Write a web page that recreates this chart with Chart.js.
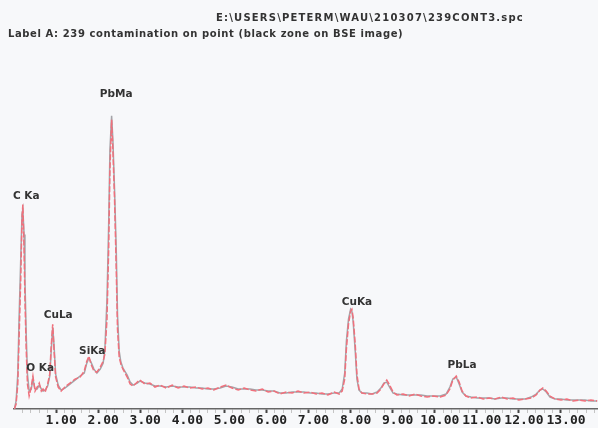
<!DOCTYPE html>
<html>
<head>
<meta charset="utf-8">
<script src="https://cdn.jsdelivr.net/npm/chart.js@4.4.1/dist/chart.umd.min.js"></script>
<style>
  html, body { margin: 0; padding: 0; background: #f7f8fa; }
  #wrap { position: relative; width: 598px; height: 428px; }
  #spectrum { position: absolute; left: 0; top: 0; }
  .hdr { position: absolute; font-family: "DejaVu Sans", sans-serif; font-weight: bold; font-size: 10px; color: #333; white-space: nowrap; }
  #path { left: 216px; top: 12px; letter-spacing: 1.2px; }
  #label { left: 8px; top: 28px; letter-spacing: 0.6px; }
</style>
</head>
<body>
<div id="wrap">
  <canvas id="spectrum" width="598" height="428"></canvas>
  <div class="hdr" id="path">E:\USERS\PETERM\WAU\210307\239CONT3.spc</div>
  <div class="hdr" id="label">Label A: 239 contamination on point (black zone on BSE image)</div>
</div>
<script>
// energy (keV) of each channel
const energy = [
  0.01,0.05,0.09,0.12,0.16,0.19,0.21,0.24,0.26,0.29,
  0.32,0.36,0.41,0.45,0.50,0.55,0.60,0.65,0.69,0.74,
  0.80,0.85,0.88,0.92,0.95,0.99,1.05,1.12,1.21,1.33,
  1.45,1.57,1.67,1.73,1.78,1.83,1.90,1.97,2.05,2.12,
  2.16,2.21,2.25,2.28,2.32,2.35,2.39,2.43,2.46,2.50,
  2.54,2.59,2.69,2.76,2.83,2.93,2.99,3.11,3.23,3.35,
  3.47,3.62,3.76,3.90,4.04,4.18,4.33,4.47,4.61,4.75,
  4.90,5.04,5.18,5.33,5.47,5.61,5.75,5.90,6.04,6.18,
  6.32,6.47,6.61,6.75,6.89,7.04,7.18,7.32,7.46,7.61,
  7.73,7.80,7.86,7.90,7.95,8.00,8.03,8.06,8.11,8.15,
  8.20,8.27,8.39,8.51,8.63,8.72,8.79,8.86,8.94,9.01,
  9.10,9.25,9.39,9.53,9.67,9.82,9.96,10.13,10.27,10.36,
  10.43,10.51,10.58,10.65,10.74,10.86,11.01,11.15,11.29,11.43,
  11.58,11.72,11.86,12.00,12.15,12.29,12.41,12.50,12.57,12.65,
  12.74,12.86,13.00,13.14,13.29,13.43,13.57,13.71,13.86
];
// red spectrum (counts)
const redCounts = [
  0,5,25,70,130,190,205,160,110,60,
  25,13,22,33,18,22,26,18,20,17,
  25,35,60,85,60,32,22,18,22,26,
  30,32,38,48,53,45,38,37,42,48,
  55,90,160,240,290,260,210,140,80,52,
  45,40,32,25,23,27,29,25,26,22,
  24,21,24,21,23,21,22,20,21,19,
  22,24,21,19,21,19,18,20,17,18,
  15,17,16,18,16,17,15,16,14,17,
  15,18,30,60,85,98,100,92,65,35,
  20,16,15,15,16,20,25,29,23,17,
  14,15,13,15,13,12,13,12,14,20,
  29,33,27,18,13,11,12,10,11,10,
  12,10,11,9,10,11,14,19,21,18,
  13,10,9,10,8,9,8,9,8
];
// grey spectrum (counts)
const greyCounts = [
  0,8,35,90,150,195,200,175,130,75,
  35,18,20,30,20,20,24,20,18,19,
  23,33,55,82,65,35,24,19,21,25,
  29,33,36,46,51,47,40,36,40,46,
  60,110,185,260,294,270,220,160,95,58,
  47,41,34,27,24,26,28,26,25,23,
  23,22,23,22,22,22,21,21,20,20,
  21,23,22,20,20,20,19,19,18,18,
  16,16,17,17,17,16,16,15,15,16,
  16,20,36,68,90,100,98,88,58,30,
  19,16,16,15,17,21,26,27,21,16,
  15,14,14,14,14,13,13,13,15,22,
  30,32,25,17,13,12,11,11,11,10,
  11,11,10,10,10,12,15,19,20,17,
  12,10,10,9,9,9,9,8,8
];
// peak labels: name, energy and height where the label sits
const peakNames = ['C Ka', 'O Ka', 'CuLa', 'SiKa', 'PbMa', 'CuKa', 'PbLa'];
const peakLabelEnergy = [0.29, 0.62, 1.05, 1.86, 2.43, 8.15, 10.65];
const peakLabelCounts = [213, 41, 94, 58, 316, 107, 44];

const tickValues = [1, 2, 3, 4, 5, 6, 7, 8, 9, 10, 11, 12, 13];
const tickLabels = ['1.00', '2.00', '3.00', '4.00', '5.00', '6.00', '7.00', '8.00', '9.00', '10.00', '11.00', '12.00', '13.00'];

const toPoints = (counts) => energy.map((e, i) => ({ x: e, y: counts[i] }));

const bgPlugin = {
    id: 'bg',
    beforeDraw(chart) {
        const ctx = chart.ctx;
        ctx.save();
        ctx.fillStyle = '#f7f8fa';
        ctx.fillRect(0, 0, chart.width, chart.height);
        ctx.restore();
    }
};

const peakLabelPlugin = {
    id: 'peakLabels',
    afterDatasetsDraw(chart) {
        const ctx = chart.ctx;
        const xs = chart.scales.x;
        const ys = chart.scales.y;
        ctx.save();
        ctx.font = 'bold 10.5px "DejaVu Sans"';
        ctx.fillStyle = '#333';
        ctx.textAlign = 'center';
        ctx.textBaseline = 'middle';
        peakNames.forEach((name, i) => {
            ctx.fillText(name, xs.getPixelForValue(peakLabelEnergy[i]), ys.getPixelForValue(peakLabelCounts[i]));
        });
        ctx.restore();
    }
};

const ctx = document.getElementById('spectrum').getContext('2d');
const chart = new Chart(ctx, {
    type: 'line',
    data: {
        datasets: [{
            label: 'red',
            data: toPoints(redCounts),
            borderColor: '#f0707c',
            borderWidth: 1.5,
            borderDash: [6, 2],
            pointRadius: 0,
            tension: 0
        }, {
            label: 'grey',
            data: toPoints(greyCounts),
            borderColor: '#a4a4a8',
            borderWidth: 1.5,
            pointRadius: 0,
            tension: 0
        }]
    },
    options: {
        responsive: false,
        devicePixelRatio: 1,
        animation: false,
        layout: { padding: { left: 14, right: 0, top: 10, bottom: 0 } },
        plugins: {
            legend: { display: false },
            tooltip: { enabled: false }
        },
        scales: {
            x: {
                type: 'linear',
                min: 0,
                max: 13.88,
                afterBuildTicks(scale) {
                    const ticks = [];
                    for (let v = 0.2; v < 13.85; v += 0.2) ticks.push({ value: Math.round(v * 10) / 10 });
                    scale.ticks = ticks;
                },
                border: { display: true, color: '#666', width: 1.5 },
                grid: {
                    display: true,
                    drawOnChartArea: false,
                    tickLength: 4,
                    tickColor: (c) => tickValues.includes(c.tick && c.tick.value) ? '#444' : '#c4c4c4',
                    tickWidth: (c) => tickValues.includes(c.tick && c.tick.value) ? 2 : 1
                },
                ticks: {
                    autoSkip: false,
                    maxRotation: 0,
                    padding: 1,
                    labelOffset: 5,
                    color: '#222',
                    font: { family: '"DejaVu Sans Mono"', weight: 'bold', size: 13, lineHeight: 1 },
                    callback: (v) => {
                        const i = tickValues.indexOf(v);
                        return i >= 0 ? tickLabels[i] : '';
                    }
                }
            },
            y: {
                display: false,
                min: 0,
                max: 400
            }
        }
    },
    plugins: [bgPlugin, peakLabelPlugin]
});
</script>
</body>
</html>
